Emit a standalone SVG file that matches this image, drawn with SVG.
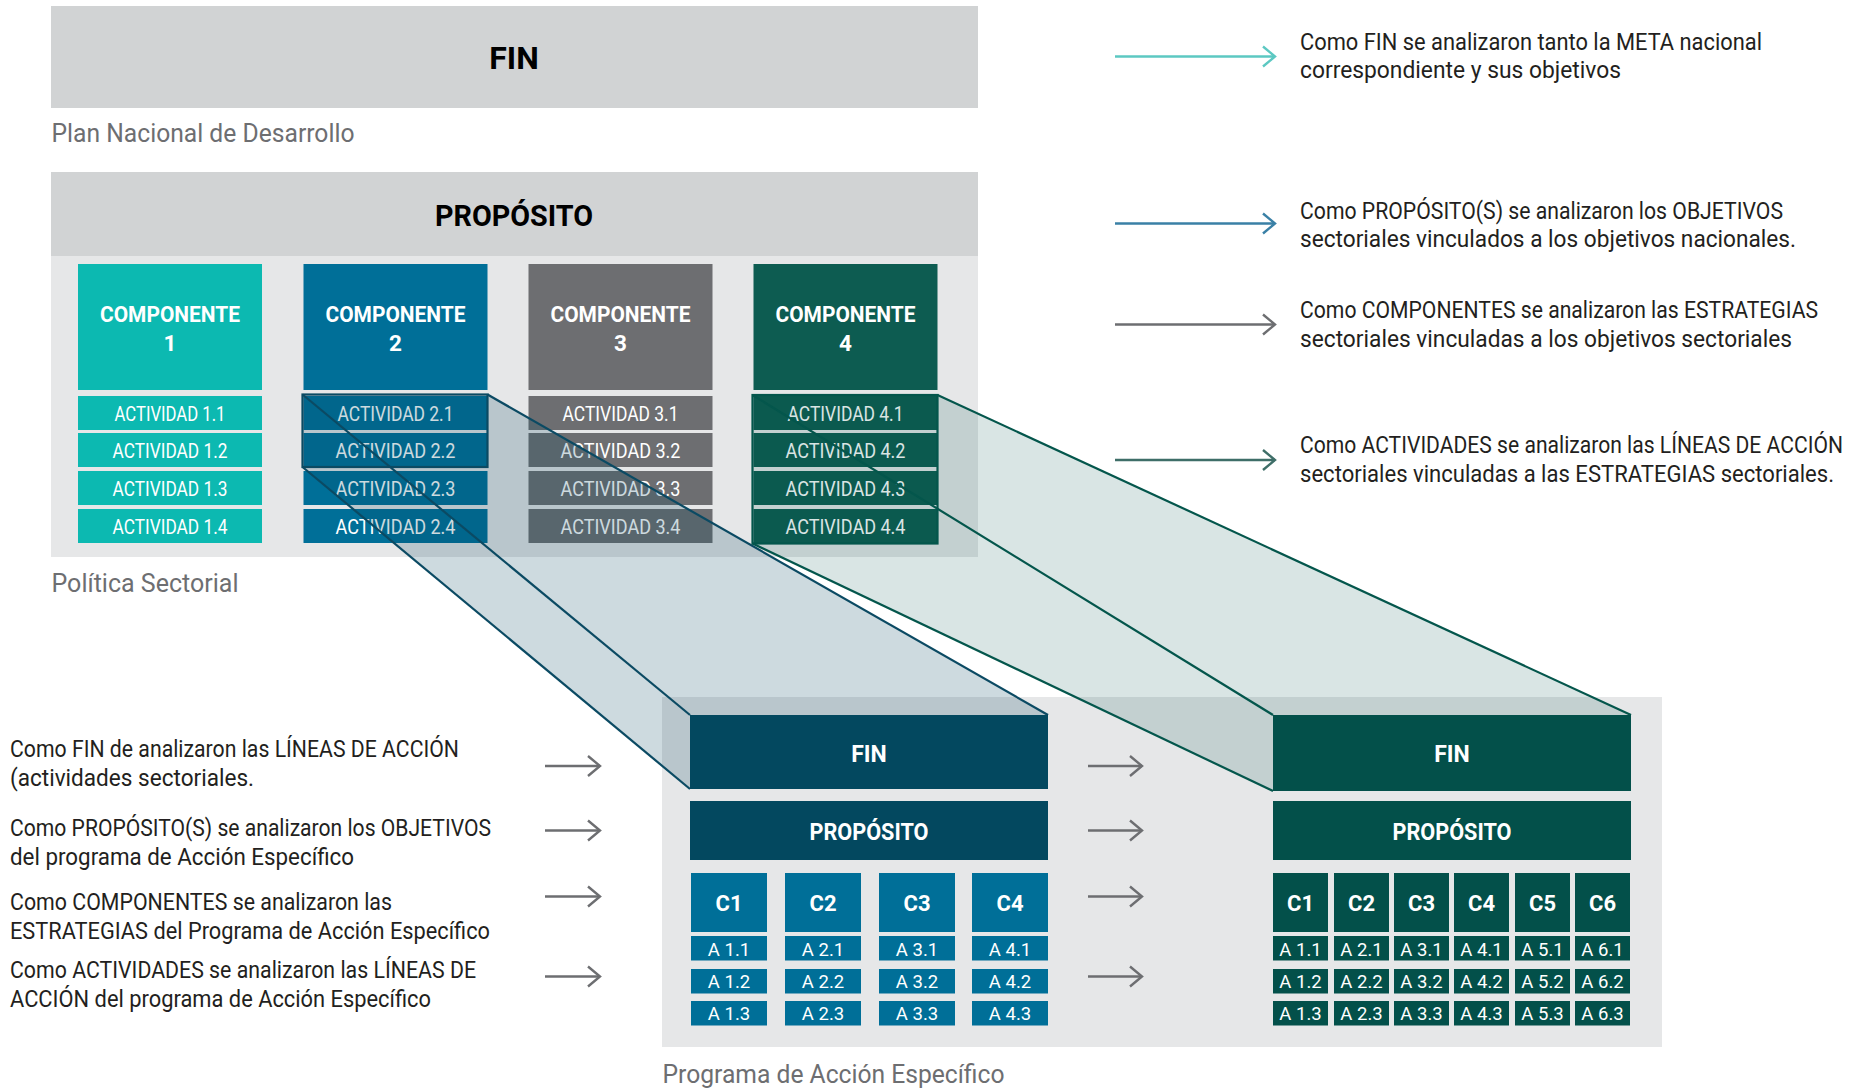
<svg xmlns="http://www.w3.org/2000/svg" width="1866" height="1089" viewBox="0 0 1866 1089">
<defs>
<style>
text { font-family: "Liberation Sans Narrow", Roboto, "Liberation Sans", sans-serif; }
.desc { font-size: 23px; fill: #231F20; }
.cap { font-size: 26px; fill: #6D6E71; }
.hd { font-weight: bold; fill: #000; text-anchor: middle; }
.ch { font-size: 22.5px; font-weight: bold; fill: #FFF; text-anchor: middle; }
.act { font-size: 20px; fill: #FFF; text-anchor: middle; }
.cl { font-size: 22px; font-weight: bold; fill: #FFF; text-anchor: middle; }
.al { font-size: 18.5px; fill: #FFF; text-anchor: middle; }
.pf { font-size: 23px; font-weight: bold; fill: #FFF; text-anchor: middle; }
.arr { fill: none; stroke-width: 2.4; }
.beamB { stroke: #0B4A63; stroke-width: 2.2; fill: none; }
.beamG { stroke: #04564C; stroke-width: 2.2; fill: none; }
</style>
<marker id="m1" viewBox="-14 -12 16 24" markerWidth="16" markerHeight="24" refX="0" refY="0" orient="auto" markerUnits="userSpaceOnUse"><path d="M-12,-10 L0,0 L-12,10" fill="none" stroke="#5CC8C2" stroke-width="2.4"/></marker>
<marker id="m2" viewBox="-14 -12 16 24" markerWidth="16" markerHeight="24" refX="0" refY="0" orient="auto" markerUnits="userSpaceOnUse"><path d="M-12,-10 L0,0 L-12,10" fill="none" stroke="#3A80A6" stroke-width="2.4"/></marker>
<marker id="m3" viewBox="-14 -12 16 24" markerWidth="16" markerHeight="24" refX="0" refY="0" orient="auto" markerUnits="userSpaceOnUse"><path d="M-12,-10 L0,0 L-12,10" fill="none" stroke="#6D6E71" stroke-width="2.4"/></marker>
<marker id="m4" viewBox="-14 -12 16 24" markerWidth="16" markerHeight="24" refX="0" refY="0" orient="auto" markerUnits="userSpaceOnUse"><path d="M-12,-10 L0,0 L-12,10" fill="none" stroke="#3E6E68" stroke-width="2.4"/></marker>
</defs>

<rect width="1866" height="1089" fill="#FFFFFF"/>

<!-- Top: Plan Nacional -->
<g id="pnd-fin">
<rect x="51" y="6" width="927" height="102" fill="#D1D3D4"/>
<text class="hd" x="514" y="69" font-size="32">FIN</text>
</g>
<text class="cap" x="51.5" y="142" textLength="303" lengthAdjust="spacingAndGlyphs">Plan Nacional de Desarrollo</text>

<!-- Política Sectorial panel -->
<g id="ps-proposito">
<rect x="51" y="172" width="927" height="84" fill="#D1D3D4"/>
<rect x="51" y="256" width="927" height="301" fill="#E6E7E8"/>
<text class="hd" x="514" y="226" font-size="30" textLength="158" lengthAdjust="spacingAndGlyphs">PROPÓSITO</text>
</g>
<text class="cap" x="51.5" y="591.5" textLength="187" lengthAdjust="spacingAndGlyphs">Política Sectorial</text>

<g id="componente-1">
<rect x="78" y="264" width="184" height="126" fill="#0CB9B1"/>
<text class="ch" x="170" y="322.3" textLength="140" lengthAdjust="spacingAndGlyphs">COMPONENTE</text>
<text class="ch" x="170" y="350.7">1</text>
<rect x="78" y="396" width="184" height="34" fill="#0CB9B1"/>
<rect x="78" y="433" width="184" height="34" fill="#0CB9B1"/>
<rect x="78" y="471" width="184" height="34" fill="#0CB9B1"/>
<rect x="78" y="509" width="184" height="34" fill="#0CB9B1"/>
<text class="act" x="170" y="420.5" textLength="111" lengthAdjust="spacingAndGlyphs">ACTIVIDAD 1.1</text>
<text class="act" x="170" y="457.5" textLength="115" lengthAdjust="spacingAndGlyphs">ACTIVIDAD 1.2</text>
<text class="act" x="170" y="495.5" textLength="115" lengthAdjust="spacingAndGlyphs">ACTIVIDAD 1.3</text>
<text class="act" x="170" y="533.5" textLength="115" lengthAdjust="spacingAndGlyphs">ACTIVIDAD 1.4</text>
</g>

<g id="componente-2">
<rect x="303.5" y="264" width="184" height="126" fill="#006F98"/>
<text class="ch" x="395.5" y="322.3" textLength="140" lengthAdjust="spacingAndGlyphs">COMPONENTE</text>
<text class="ch" x="395.5" y="350.7">2</text>
<rect x="303.5" y="396" width="184" height="34" fill="#006F98"/>
<rect x="303.5" y="433" width="184" height="34" fill="#006F98"/>
<rect x="303.5" y="471" width="184" height="34" fill="#006F98"/>
<rect x="303.5" y="509" width="184" height="34" fill="#006F98"/>
<text class="act" x="395.5" y="420.5" textLength="116" lengthAdjust="spacingAndGlyphs">ACTIVIDAD 2.1</text>
<text class="act" x="395.5" y="457.5" textLength="120" lengthAdjust="spacingAndGlyphs">ACTIVIDAD 2.2</text>
<text class="act" x="395.5" y="495.5" textLength="120" lengthAdjust="spacingAndGlyphs">ACTIVIDAD 2.3</text>
<text class="act" x="395.5" y="533.5" textLength="120" lengthAdjust="spacingAndGlyphs">ACTIVIDAD 2.4</text>
</g>

<g id="componente-3">
<rect x="528.5" y="264" width="184" height="126" fill="#6D6E71"/>
<text class="ch" x="620.5" y="322.3" textLength="140" lengthAdjust="spacingAndGlyphs">COMPONENTE</text>
<text class="ch" x="620.5" y="350.7">3</text>
<rect x="528.5" y="396" width="184" height="34" fill="#6D6E71"/>
<rect x="528.5" y="433" width="184" height="34" fill="#6D6E71"/>
<rect x="528.5" y="471" width="184" height="34" fill="#6D6E71"/>
<rect x="528.5" y="509" width="184" height="34" fill="#6D6E71"/>
<text class="act" x="620.5" y="420.5" textLength="116" lengthAdjust="spacingAndGlyphs">ACTIVIDAD 3.1</text>
<text class="act" x="620.5" y="457.5" textLength="120" lengthAdjust="spacingAndGlyphs">ACTIVIDAD 3.2</text>
<text class="act" x="620.5" y="495.5" textLength="120" lengthAdjust="spacingAndGlyphs">ACTIVIDAD 3.3</text>
<text class="act" x="620.5" y="533.5" textLength="120" lengthAdjust="spacingAndGlyphs">ACTIVIDAD 3.4</text>
</g>

<g id="componente-4">
<rect x="753.5" y="264" width="184" height="126" fill="#0D5C51"/>
<text class="ch" x="845.5" y="322.3" textLength="140" lengthAdjust="spacingAndGlyphs">COMPONENTE</text>
<text class="ch" x="845.5" y="350.7">4</text>
<rect x="753.5" y="396" width="184" height="34" fill="#0D5C51"/>
<rect x="753.5" y="433" width="184" height="34" fill="#0D5C51"/>
<rect x="753.5" y="471" width="184" height="34" fill="#0D5C51"/>
<rect x="753.5" y="509" width="184" height="34" fill="#0D5C51"/>
<text class="act" x="845.5" y="420.5" textLength="116" lengthAdjust="spacingAndGlyphs">ACTIVIDAD 4.1</text>
<text class="act" x="845.5" y="457.5" textLength="120" lengthAdjust="spacingAndGlyphs">ACTIVIDAD 4.2</text>
<text class="act" x="845.5" y="495.5" textLength="120" lengthAdjust="spacingAndGlyphs">ACTIVIDAD 4.3</text>
<text class="act" x="845.5" y="533.5" textLength="120" lengthAdjust="spacingAndGlyphs">ACTIVIDAD 4.4</text>
</g>

<!-- Programa de Acción Específico panel background -->
<rect id="pae-panel" x="662" y="697" width="1000" height="350" fill="#E6E7E8"/>
<text class="cap" x="662.5" y="1083" textLength="342" lengthAdjust="spacingAndGlyphs">Programa de Acción Específico</text>

<!-- Projections (connectors) -->
<g id="projections">
<polygon points="302.5,394.5 487.5,394.5 1048,715 690,715 690,789 302.5,467" fill="#03465F" fill-opacity="0.2"/>
<polygon points="752.5,395 937.5,395 1631,715 1273,715 1273,791 752.5,543.5" fill="#03504A" fill-opacity="0.15"/>
<rect class="beamB" x="302.5" y="394.5" width="185" height="72.5"/>
<line class="beamB" x1="302.5" y1="394.5" x2="690" y2="715"/>
<line class="beamB" x1="302.5" y1="467" x2="690" y2="789"/>
<line class="beamB" x1="487.5" y1="394.5" x2="1048" y2="715"/>
<rect class="beamG" x="752.5" y="395" width="185" height="148.5"/>
<line class="beamG" x1="752.5" y1="395" x2="1273" y2="715"/>
<line class="beamG" x1="752.5" y1="543.5" x2="1273" y2="791"/>
<line class="beamG" x1="937.5" y1="395" x2="1631" y2="715"/>
</g>

<!-- Blue program -->
<g id="pae-azul">
<rect x="690" y="715" width="358" height="74" fill="#03485F"/>
<text class="pf" x="869" y="761.7">FIN</text>
<rect x="690" y="801" width="358" height="59" fill="#03485F"/>
<text class="pf" x="869" y="840" textLength="119" lengthAdjust="spacingAndGlyphs">PROPÓSITO</text>
<g fill="#006F98">
<rect x="691" y="873" width="76" height="59"/><rect x="785" y="873" width="76" height="59"/><rect x="879" y="873" width="76" height="59"/><rect x="972" y="873" width="76" height="59"/>
<rect x="691" y="936" width="76" height="24.5"/><rect x="785" y="936" width="76" height="24.5"/><rect x="879" y="936" width="76" height="24.5"/><rect x="972" y="936" width="76" height="24.5"/>
<rect x="691" y="969" width="76" height="24.5"/><rect x="785" y="969" width="76" height="24.5"/><rect x="879" y="969" width="76" height="24.5"/><rect x="972" y="969" width="76" height="24.5"/>
<rect x="691" y="1001" width="76" height="24.5"/><rect x="785" y="1001" width="76" height="24.5"/><rect x="879" y="1001" width="76" height="24.5"/><rect x="972" y="1001" width="76" height="24.5"/>
</g>
<text class="cl" x="729" y="910.7">C1</text><text class="cl" x="823" y="910.7">C2</text><text class="cl" x="917" y="910.7">C3</text><text class="cl" x="1010" y="910.7">C4</text>
<text class="al" x="729" y="955.5">A 1.1</text><text class="al" x="823" y="955.5">A 2.1</text><text class="al" x="917" y="955.5">A 3.1</text><text class="al" x="1010" y="955.5">A 4.1</text>
<text class="al" x="729" y="988">A 1.2</text><text class="al" x="823" y="988">A 2.2</text><text class="al" x="917" y="988">A 3.2</text><text class="al" x="1010" y="988">A 4.2</text>
<text class="al" x="729" y="1020">A 1.3</text><text class="al" x="823" y="1020">A 2.3</text><text class="al" x="917" y="1020">A 3.3</text><text class="al" x="1010" y="1020">A 4.3</text>
</g>

<!-- Green program -->
<g id="pae-verde">
<rect x="1273" y="715" width="358" height="76" fill="#03504A"/>
<text class="pf" x="1452" y="761.7">FIN</text>
<rect x="1273" y="801" width="358" height="59" fill="#03504A"/>
<text class="pf" x="1452" y="840" textLength="119" lengthAdjust="spacingAndGlyphs">PROPÓSITO</text>
<g fill="#03504A">
<rect x="1273" y="873" width="55" height="59"/><rect x="1334" y="873" width="55" height="59"/><rect x="1394" y="873" width="55" height="59"/><rect x="1454" y="873" width="55" height="59"/><rect x="1515" y="873" width="55" height="59"/><rect x="1575" y="873" width="55" height="59"/>
<rect x="1273" y="936" width="55" height="24.5"/><rect x="1334" y="936" width="55" height="24.5"/><rect x="1394" y="936" width="55" height="24.5"/><rect x="1454" y="936" width="55" height="24.5"/><rect x="1515" y="936" width="55" height="24.5"/><rect x="1575" y="936" width="55" height="24.5"/>
<rect x="1273" y="969" width="55" height="24.5"/><rect x="1334" y="969" width="55" height="24.5"/><rect x="1394" y="969" width="55" height="24.5"/><rect x="1454" y="969" width="55" height="24.5"/><rect x="1515" y="969" width="55" height="24.5"/><rect x="1575" y="969" width="55" height="24.5"/>
<rect x="1273" y="1001" width="55" height="24.5"/><rect x="1334" y="1001" width="55" height="24.5"/><rect x="1394" y="1001" width="55" height="24.5"/><rect x="1454" y="1001" width="55" height="24.5"/><rect x="1515" y="1001" width="55" height="24.5"/><rect x="1575" y="1001" width="55" height="24.5"/>
</g>
<text class="cl" x="1300.5" y="910.7">C1</text><text class="cl" x="1361.5" y="910.7">C2</text><text class="cl" x="1421.5" y="910.7">C3</text><text class="cl" x="1481.5" y="910.7">C4</text><text class="cl" x="1542.5" y="910.7">C5</text><text class="cl" x="1602.5" y="910.7">C6</text>
<text class="al" x="1300.5" y="955.5">A 1.1</text><text class="al" x="1361.5" y="955.5">A 2.1</text><text class="al" x="1421.5" y="955.5">A 3.1</text><text class="al" x="1481.5" y="955.5">A 4.1</text><text class="al" x="1542.5" y="955.5">A 5.1</text><text class="al" x="1602.5" y="955.5">A 6.1</text>
<text class="al" x="1300.5" y="988">A 1.2</text><text class="al" x="1361.5" y="988">A 2.2</text><text class="al" x="1421.5" y="988">A 3.2</text><text class="al" x="1481.5" y="988">A 4.2</text><text class="al" x="1542.5" y="988">A 5.2</text><text class="al" x="1602.5" y="988">A 6.2</text>
<text class="al" x="1300.5" y="1020">A 1.3</text><text class="al" x="1361.5" y="1020">A 2.3</text><text class="al" x="1421.5" y="1020">A 3.3</text><text class="al" x="1481.5" y="1020">A 4.3</text><text class="al" x="1542.5" y="1020">A 5.3</text><text class="al" x="1602.5" y="1020">A 6.3</text>
</g>

<!-- Arrows -->
<g id="connectors">
<line class="arr" x1="1115" y1="56.5" x2="1275" y2="56.5" stroke="#5CC8C2" marker-end="url(#m1)"/>
<line class="arr" x1="1115" y1="223.5" x2="1275" y2="223.5" stroke="#3A80A6" marker-end="url(#m2)"/>
<line class="arr" x1="1115" y1="324.5" x2="1275" y2="324.5" stroke="#6D6E71" marker-end="url(#m3)"/>
<line class="arr" x1="1115" y1="460" x2="1275" y2="460" stroke="#3E6E68" marker-end="url(#m4)"/>
<line class="arr" x1="545" y1="766" x2="600" y2="766" stroke="#6D6E71" marker-end="url(#m3)"/>
<line class="arr" x1="545" y1="830.5" x2="600" y2="830.5" stroke="#6D6E71" marker-end="url(#m3)"/>
<line class="arr" x1="545" y1="896.5" x2="600" y2="896.5" stroke="#6D6E71" marker-end="url(#m3)"/>
<line class="arr" x1="545" y1="976.5" x2="600" y2="976.5" stroke="#6D6E71" marker-end="url(#m3)"/>
<line class="arr" x1="1088" y1="766" x2="1142" y2="766" stroke="#6D6E71" marker-end="url(#m3)"/>
<line class="arr" x1="1088" y1="830.5" x2="1142" y2="830.5" stroke="#6D6E71" marker-end="url(#m3)"/>
<line class="arr" x1="1088" y1="896.5" x2="1142" y2="896.5" stroke="#6D6E71" marker-end="url(#m3)"/>
<line class="arr" x1="1088" y1="976.5" x2="1142" y2="976.5" stroke="#6D6E71" marker-end="url(#m3)"/>
</g>

<!-- Right descriptions -->
<g id="desc-right">
<text class="desc" x="1300" y="49.5" textLength="462" lengthAdjust="spacingAndGlyphs">Como FIN se analizaron tanto la META nacional</text>
<text class="desc" x="1300" y="77.5" textLength="321" lengthAdjust="spacingAndGlyphs">correspondiente y sus objetivos</text>
<text class="desc" x="1300" y="218.5" textLength="483" lengthAdjust="spacingAndGlyphs">Como PROPÓSITO(S) se analizaron los OBJETIVOS</text>
<text class="desc" x="1300" y="246.5" textLength="496" lengthAdjust="spacingAndGlyphs">sectoriales vinculados a los objetivos nacionales.</text>
<text class="desc" x="1300" y="318" textLength="518" lengthAdjust="spacingAndGlyphs">Como COMPONENTES se analizaron las ESTRATEGIAS</text>
<text class="desc" x="1300" y="346.5" textLength="492" lengthAdjust="spacingAndGlyphs">sectoriales vinculadas a los objetivos sectoriales</text>
<text class="desc" x="1300" y="453" textLength="543" lengthAdjust="spacingAndGlyphs">Como ACTIVIDADES se analizaron las LÍNEAS DE ACCIÓN</text>
<text class="desc" x="1300" y="481.5" textLength="534" lengthAdjust="spacingAndGlyphs">sectoriales vinculadas a las ESTRATEGIAS sectoriales.</text>
</g>

<!-- Left descriptions -->
<g id="desc-left">
<text class="desc" x="10" y="757" textLength="449" lengthAdjust="spacingAndGlyphs">Como FIN de analizaron las LÍNEAS DE ACCIÓN</text>
<text class="desc" x="10" y="786" textLength="244" lengthAdjust="spacingAndGlyphs">(actividades sectoriales.</text>
<text class="desc" x="10" y="835.5" textLength="481" lengthAdjust="spacingAndGlyphs">Como PROPÓSITO(S) se analizaron los OBJETIVOS</text>
<text class="desc" x="10" y="864.5" textLength="344" lengthAdjust="spacingAndGlyphs">del programa de Acción Específico</text>
<text class="desc" x="10" y="910" textLength="382" lengthAdjust="spacingAndGlyphs">Como COMPONENTES se analizaron las</text>
<text class="desc" x="10" y="939" textLength="480" lengthAdjust="spacingAndGlyphs">ESTRATEGIAS del Programa de Acción Específico</text>
<text class="desc" x="10" y="978" textLength="466" lengthAdjust="spacingAndGlyphs">Como ACTIVIDADES se analizaron las LÍNEAS DE</text>
<text class="desc" x="10" y="1006.5" textLength="421" lengthAdjust="spacingAndGlyphs">ACCIÓN del programa de Acción Específico</text>
</g>
</svg>
